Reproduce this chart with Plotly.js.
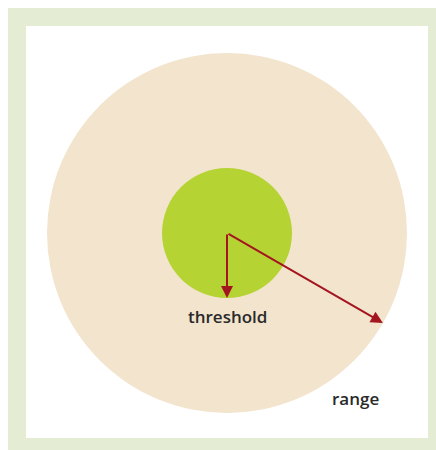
<!DOCTYPE html>
<html>
<head>
<meta charset="utf-8">
<script src="https://cdn.plot.ly/plotly-3.0.1.min.js"></script>
<style>
  html, body { margin: 0; padding: 0; background: #ffffff; }
  #chart { width: 436px; height: 450px; }
</style>
</head>
<body>
<div id="chart"></div>
<script>
// Two concentric zones, in pixel units of the picture
const zoneNames = ['range', 'threshold'];
const zoneRadii = [180, 65];
const zoneColors = ['#f2e4cd', '#b6d334'];
const centerX = 227;
const centerY = 233;

// Arrow directions (degrees, screen coords: 0 = right, 90 = down)
const arrowAngles = [30, 90];

// Label positions
const labelX = [355, 227];
const labelY = [398, 316];

const ARROW = '#a3161f';

const shapes = [
    // green frame
    { type: 'rect', xref: 'x', yref: 'y', x0: 8, x1: 436, y0: 8, y1: 450,
      fillcolor: '#e4edd4', line: { width: 0 }, layer: 'below' },
    { type: 'rect', xref: 'x', yref: 'y', x0: 26, x1: 428, y0: 26, y1: 438,
      fillcolor: '#ffffff', line: { width: 0 }, layer: 'below' }
];

zoneRadii.forEach((r, i) => {
    shapes.push({
        type: 'circle', xref: 'x', yref: 'y',
        x0: centerX - r, x1: centerX + r,
        y0: centerY - r, y1: centerY + r,
        fillcolor: zoneColors[i],
        line: { width: 0 },
        layer: 'below'
    });
});

const annotations = [];

zoneRadii.forEach((r, i) => {
    const a = arrowAngles[i] * Math.PI / 180;
    annotations.push({
        x: centerX + r * Math.cos(a),
        y: centerY + r * Math.sin(a),
        ax: centerX, ay: centerY,
        xref: 'x', yref: 'y', axref: 'x', ayref: 'y',
        showarrow: true,
        arrowhead: 2,
        arrowsize: 1.2,
        arrowwidth: 2,
        arrowcolor: ARROW,
        standoff: 0,
        text: ''
    });
    annotations.push({
        x: labelX[i], y: labelY[i],
        xref: 'x', yref: 'y',
        showarrow: false,
        text: zoneNames[i],
        font: { family: 'Open Sans, sans-serif', size: 17, weight: 600, color: '#2a2a2a' },
        xanchor: 'center', yanchor: 'middle'
    });
});

const layout = {
    width: 436,
    height: 450,
    margin: { t: 0, r: 0, b: 0, l: 0 },
    paper_bgcolor: '#ffffff',
    plot_bgcolor: '#ffffff',
    xaxis: { range: [0, 436], visible: false, fixedrange: true },
    yaxis: { range: [450, 0], visible: false, fixedrange: true },
    showlegend: false,
    shapes: shapes,
    annotations: annotations
};

Plotly.newPlot('chart', [{ x: [], y: [], type: 'scatter', mode: 'markers', hoverinfo: 'skip' }],
    layout, { displayModeBar: false, staticPlot: true });
</script>
</body>
</html>
